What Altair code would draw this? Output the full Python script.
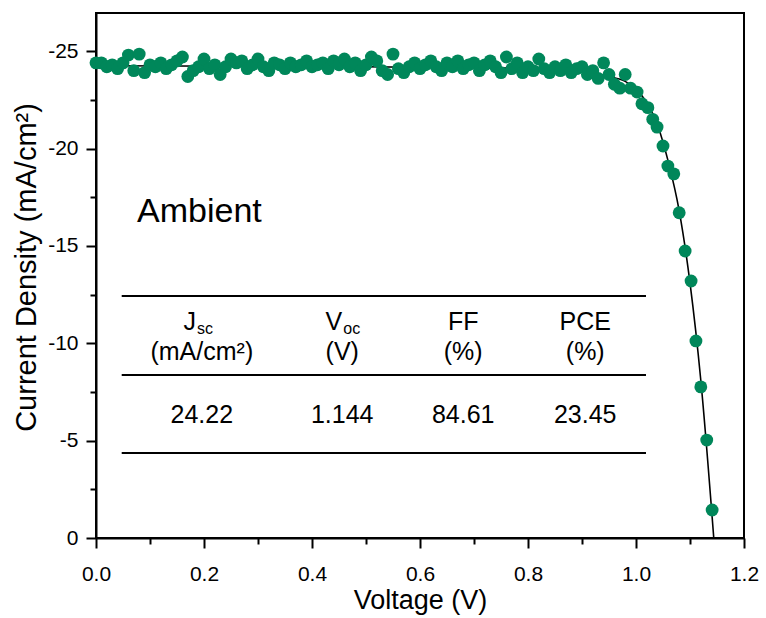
import altair as alt
import pandas as pd

# ---- measured J-V data (points) ----
voltage = [0.00, 0.01, 0.02, 0.03, 0.04, 0.05, 0.06, 0.07, 0.08, 0.09,
           0.10, 0.11, 0.12, 0.13, 0.14, 0.15, 0.16, 0.17, 0.18, 0.19,
           0.20, 0.21, 0.22, 0.23, 0.24, 0.25, 0.26, 0.27, 0.28, 0.29,
           0.30, 0.31, 0.32, 0.33, 0.34, 0.35, 0.36, 0.37, 0.38, 0.39,
           0.40, 0.41, 0.42, 0.43, 0.44, 0.45, 0.46, 0.47, 0.48, 0.49,
           0.50, 0.51, 0.52, 0.53, 0.54, 0.55, 0.56, 0.57, 0.58, 0.59,
           0.60, 0.61, 0.62, 0.63, 0.64, 0.65, 0.66, 0.67, 0.68, 0.69,
           0.70, 0.71, 0.72, 0.73, 0.74, 0.75, 0.76, 0.77, 0.78, 0.79,
           0.80, 0.81, 0.82, 0.83, 0.84, 0.85, 0.86, 0.87, 0.88, 0.89,
           0.90, 0.91, 0.92, 0.93, 0.94, 0.95, 0.96, 0.97, 0.98, 0.99,
           1.002, 1.011, 1.022, 1.031, 1.039, 1.050, 1.059, 1.070, 1.080, 1.091,
           1.102, 1.111, 1.120, 1.131, 1.141]
current = [-24.4, -24.4, -24.2, -24.3, -24.1, -24.4, -24.8, -24.0, -24.85, -23.9,
           -24.3, -24.2, -24.4, -24.1, -24.3, -24.5, -24.7, -23.7, -24.0, -24.2,
           -24.6, -24.1, -24.3, -23.8, -24.2, -24.6, -24.4, -24.5, -24.1, -24.3,
           -24.6, -24.2, -24.0, -24.4, -24.3, -24.1, -24.4, -24.2, -24.3, -24.5,
           -24.2, -24.3, -24.4, -24.1, -24.5, -24.3, -24.6, -24.2, -24.4, -24.0,
           -24.3, -24.7, -24.5, -24.0, -23.8, -24.85, -24.1, -23.9, -24.2, -24.4,
           -24.1, -24.3, -24.5, -24.2, -24.0, -24.4, -24.2, -24.5, -24.1, -24.3,
           -24.4, -24.0, -24.3, -24.5, -24.2, -23.9, -24.7, -24.1, -24.4, -23.9,
           -24.2, -24.0, -24.6, -24.1, -23.9, -24.2, -24.0, -24.3, -23.9, -24.1,
           -24.2, -23.8, -24.0, -23.6, -24.4, -23.8, -23.3, -23.1, -23.8, -23.1,
           -22.9, -22.3, -22.1, -21.5, -21.1, -20.13, -19.1, -18.7, -16.7, -14.74,
           -13.2, -10.12, -7.76, -5.03, -1.44]

# ---- fitted curve ----
fit_v = [0.0, 0.4, 0.8, 0.9, 0.95, 0.98, 1.0, 1.02, 1.04, 1.06, 1.08, 1.10, 1.12, 1.144]
fit_j = [-24.25, -24.22, -24.12, -23.95, -23.7, -23.45, -23.05, -22.35, -21.2, -19.3,
         -16.8, -13.1, -8.1, 0.0]

# ---- inset table ----
col_x = [0.196, 0.456, 0.680, 0.906]
header_main = ["", "", "FF", "PCE"]
header_units = ["(mA/cm²)", "(V)", "(%)", "(%)"]
values_row = ["24.22", "1.144", "84.61", "23.45"]
row_y = {"head": -11.09, "units": -9.55, "vals": -6.32}
rule_y = [-12.43, -8.37, -4.37]
rule_x = [0.0476, 1.0185]
sym_main = ["J", "V"]
sym_main_x = [0.185, 0.456]
sym_sub = ["sc", "oc"]
sym_sub_x = [0.187, 0.458]

x_ticks = [round(i * 0.1, 1) for i in range(13)]
y_ticks = [-2.5 * i for i in range(11)]

FONT = "Liberation Sans"
GREEN = "#00875A"

xs = alt.Scale(domain=[0, 1.2], nice=False, zero=False)
ys = alt.Scale(domain=[0, -26.96], nice=False, zero=False)

x_axis = alt.Axis(
    values=x_ticks,
    labelExpr="round(datum.value*10) % 2 === 0 ? format(datum.value, '.1f') : ''",
    tickSize={"condition": {"test": "round(datum.value*10) % 2 === 0", "value": 10}, "value": 6},
    labelPadding=15, labelFlush=False, title="Voltage (V)", titlePadding=3,
)
y_axis = alt.Axis(
    values=y_ticks,
    labelExpr="datum.value % 5 === 0 ? '' + datum.value : ''",
    tickSize={"condition": {"test": "datum.value % 5 === 0", "value": 10}, "value": 6},
    labelPadding=8, labelFlush=False, title="Current Density (mA/cm²)", titlePadding=6,
    titleFontSize=29, titleY=254,
)

pts_df = pd.DataFrame({"V": voltage, "J": current})
fit_df = pd.DataFrame({"V": fit_v, "J": fit_j})

line = alt.Chart(fit_df).mark_line(color="black", strokeWidth=1.6, interpolate="monotone").encode(
    x=alt.X("V:Q", scale=xs, axis=x_axis),
    y=alt.Y("J:Q", scale=ys, axis=y_axis),
)
pts = alt.Chart(pts_df).mark_circle(size=165, color=GREEN, opacity=1).encode(
    x=alt.X("V:Q", scale=xs), y=alt.Y("J:Q", scale=ys)
)

rules_df = pd.DataFrame({"y": rule_y, "x": [rule_x[0]] * 3, "x2": [rule_x[1]] * 3})
rules = alt.Chart(rules_df).mark_rule(color="black", strokeWidth=2).encode(
    x=alt.X("x:Q", scale=xs), x2="x2:Q", y=alt.Y("y:Q", scale=ys)
)

center_rows = []
for cx, h, u, v in zip(col_x, header_main, header_units, values_row):
    if h:
        center_rows.append({"x": cx, "y": row_y["head"], "t": h})
    center_rows.append({"x": cx, "y": row_y["units"], "t": u})
    center_rows.append({"x": cx, "y": row_y["vals"], "t": v})
center_txt = alt.Chart(pd.DataFrame(center_rows)).mark_text(
    font=FONT, fontSize=25, color="black", align="center", baseline="middle"
).encode(x=alt.X("x:Q", scale=xs), y=alt.Y("y:Q", scale=ys), text="t:N")

sym_df = pd.DataFrame({"x": sym_main_x, "y": [row_y["head"]] * 2, "t": sym_main})
sym_txt = alt.Chart(sym_df).mark_text(
    font=FONT, fontSize=25, color="black", align="right", baseline="middle"
).encode(x=alt.X("x:Q", scale=xs), y=alt.Y("y:Q", scale=ys), text="t:N")

sub_df = pd.DataFrame({"x": sym_sub_x, "y": [row_y["head"]] * 2, "t": sym_sub})
sub_txt = alt.Chart(sub_df).mark_text(
    font=FONT, fontSize=16, color="black", align="left", baseline="middle", dy=7
).encode(x=alt.X("x:Q", scale=xs), y=alt.Y("y:Q", scale=ys), text="t:N")

amb_df = pd.DataFrame({"x": [0.076], "y": [-16.74], "t": ["Ambient"]})
amb_txt = alt.Chart(amb_df).mark_text(
    font=FONT, fontSize=34, color="black", align="left", baseline="middle"
).encode(x=alt.X("x:Q", scale=xs), y=alt.Y("y:Q", scale=ys), text="t:N")

chart = alt.layer(line, pts, rules, center_txt, sym_txt, sub_txt, amb_txt).properties(
    width=648, height=525,
    padding={"left": 96, "top": 13, "right": 22, "bottom": 80},
    autosize=alt.AutoSizeParams(type="none"),
    background="white",
).configure_view(stroke="black", strokeWidth=2).configure_axis(
    domainColor="black", domainWidth=2, tickColor="black", tickWidth=2,
    labelFont=FONT, titleFont=FONT, labelColor="black", titleColor="black",
    labelFontSize=21, titleFontSize=27, titleFontWeight="normal", grid=False,
)

chart.save("out.html", embed_options={"renderer": "svg", "actions": False})
